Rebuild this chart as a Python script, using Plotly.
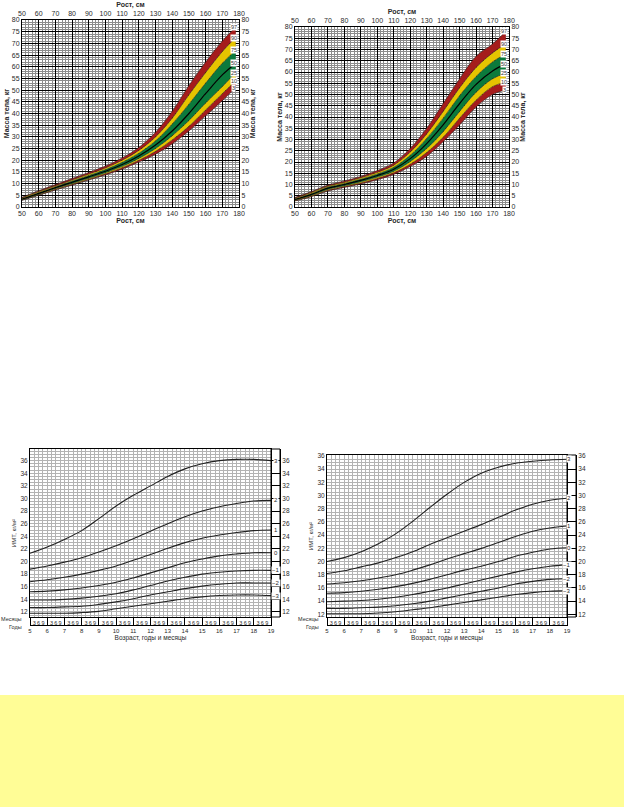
import plotly.graph_objects as go

W, H = 624, 807

# --- верхние графики: масса тела по росту, перцентили ---
heights = [50, 60, 70, 80, 90, 100, 110, 120, 130, 140, 150, 160, 170, 178]
pct_labels = ["3", "10", "25", "50", "75", "90", "97"]

# левый график
tl_p3 = [2.8, 5.0, 7.3, 9.3, 11.5, 13.7, 16.2, 19.2, 22.6, 27.0, 32.5, 39.0, 45.5, 51.0]
tl_p10 = [3.0, 5.2, 7.6, 9.7, 11.9, 14.2, 16.8, 20.0, 23.8, 28.7, 34.5, 41.5, 48.5, 54.0]
tl_p25 = [3.2, 5.5, 7.9, 10.1, 12.3, 14.7, 17.4, 20.8, 25.0, 30.5, 37.0, 44.5, 51.5, 57.5]
tl_p50 = [3.4, 5.8, 8.3, 10.6, 12.9, 15.3, 18.2, 21.8, 26.5, 32.5, 40.0, 48.5, 56.5, 61.5]
tl_p75 = [3.6, 6.2, 8.7, 11.1, 13.5, 16.0, 19.1, 23.0, 28.3, 35.5, 44.0, 53.0, 61.5, 67.0]
tl_p90 = [3.9, 6.6, 9.1, 11.6, 14.1, 16.7, 20.0, 24.2, 30.0, 38.0, 48.0, 57.5, 66.5, 72.5]
tl_p97 = [4.2, 7.0, 9.6, 12.2, 14.8, 17.5, 21.0, 25.5, 32.0, 41.0, 52.0, 62.0, 71.0, 77.0]

# правый график
tr_p3 = [2.7, 4.6, 7.1, 8.7, 10.2, 12.1, 14.5, 18.0, 22.5, 29.0, 36.5, 44.5, 50.0, 52.0]
tr_p10 = [2.9, 4.9, 7.5, 9.1, 10.7, 12.7, 15.2, 19.0, 24.2, 31.0, 39.5, 47.5, 53.5, 55.5]
tr_p25 = [3.1, 5.2, 7.9, 9.5, 11.2, 13.3, 15.9, 20.2, 26.0, 33.5, 42.5, 51.0, 57.0, 59.5]
tr_p50 = [3.4, 5.6, 8.4, 10.0, 11.8, 14.0, 16.8, 21.5, 28.2, 36.5, 46.0, 54.5, 60.5, 63.5]
tr_p75 = [3.7, 6.0, 8.9, 10.5, 12.4, 14.7, 17.7, 23.0, 30.5, 39.5, 49.5, 58.0, 64.5, 68.0]
tr_p90 = [4.0, 6.5, 9.3, 11.0, 13.0, 15.4, 18.6, 24.4, 32.5, 42.5, 53.0, 62.0, 68.5, 72.5]
tr_p97 = [4.3, 6.9, 9.8, 11.6, 13.6, 16.2, 19.6, 26.0, 35.0, 46.0, 57.0, 67.0, 72.5, 78.0]

height_ticks = [50, 60, 70, 80, 90, 100, 110, 120, 130, 140, 150, 160, 170, 180]
weight_ticks = [0, 5, 10, 15, 20, 25, 30, 35, 40, 45, 50, 55, 60, 65, 70, 75, 80]

# --- нижние графики: ИМТ по возрасту, SD ---
ages = [5, 6, 7, 8, 9, 10, 11, 12, 13, 14, 15, 16, 17, 18, 19]
months = ["3", "6", "9"]
z_labels = ["3", "2", "1", "0", "−1", "−2", "−3"]
bmi_ticks = [12, 14, 16, 18, 20, 22, 24, 26, 28, 30, 32, 34, 36]

bl_sd3 = [21.3, 22.3, 23.5, 24.9, 26.8, 28.8, 30.5, 32.0, 33.5, 34.7, 35.5, 36.0, 36.2, 36.2, 36.0]
bl_sd2 = [18.8, 19.3, 19.9, 20.6, 21.5, 22.5, 23.6, 24.8, 26.0, 27.1, 28.0, 28.7, 29.2, 29.6, 29.7]
bl_sd1 = [16.8, 17.1, 17.5, 18.0, 18.6, 19.3, 20.2, 21.1, 22.1, 23.0, 23.7, 24.2, 24.6, 24.9, 25.0]
bl_sd0 = [15.2, 15.3, 15.5, 15.8, 16.2, 16.7, 17.4, 18.2, 19.0, 19.8, 20.4, 20.9, 21.2, 21.4, 21.4]
bl_sdm1 = [13.9, 13.9, 14.0, 14.2, 14.5, 14.9, 15.5, 16.2, 16.9, 17.5, 18.0, 18.3, 18.5, 18.6, 18.6]
bl_sdm2 = [12.7, 12.7, 12.8, 12.9, 13.2, 13.6, 14.1, 14.7, 15.2, 15.7, 16.1, 16.4, 16.6, 16.6, 16.6]
bl_sdm3 = [11.8, 11.8, 11.8, 11.9, 12.1, 12.5, 12.9, 13.3, 13.7, 14.1, 14.4, 14.6, 14.7, 14.7, 14.6]

br_sd3 = [20.0, 20.6, 21.5, 22.7, 24.2, 26.1, 28.2, 30.2, 32.0, 33.4, 34.3, 34.9, 35.2, 35.4, 35.5]
br_sd2 = [18.2, 18.6, 19.2, 19.8, 20.6, 21.5, 22.6, 23.6, 24.6, 25.6, 26.7, 27.8, 28.7, 29.3, 29.6]
br_sd1 = [16.6, 16.8, 17.1, 17.5, 18.0, 18.7, 19.5, 20.4, 21.2, 22.0, 22.9, 23.8, 24.6, 25.1, 25.4]
br_sd0 = [15.2, 15.3, 15.5, 15.8, 16.2, 16.7, 17.3, 18.0, 18.7, 19.3, 20.0, 20.8, 21.4, 21.9, 22.1]
br_sdm1 = [13.9, 14.0, 14.1, 14.3, 14.6, 15.0, 15.5, 16.0, 16.6, 17.2, 17.8, 18.4, 18.9, 19.3, 19.5]
br_sdm2 = [12.9, 12.9, 13.0, 13.1, 13.3, 13.6, 14.0, 14.5, 15.0, 15.5, 16.0, 16.6, 17.0, 17.3, 17.4]
br_sdm3 = [12.1, 12.1, 12.1, 12.2, 12.4, 12.7, 13.0, 13.4, 13.8, 14.2, 14.6, 15.0, 15.3, 15.5, 15.6]

FONT = "Liberation Sans"
TXT = "#2a2a2a"
RED, YEL, GRN = "#a51c1c", "#e6c400", "#0b7a3c"


def px(x):
    return x / W


def py(y):
    return 1 - y / H


fig = go.Figure()


def add_bands(curves, xa, ya):
    fills = [None, RED, YEL, GRN, GRN, YEL, RED]
    for i, vals in enumerate(curves):
        fig.add_trace(go.Scatter(
            x=heights, y=vals, mode="lines",
            line=dict(color="black" if i == 3 else "#1a1a1a",
                      width=1.2 if i == 3 else 0.5, shape="spline"),
            fill=None if i == 0 else "tonexty", fillcolor=fills[i],
            xaxis=xa, yaxis=ya, showlegend=False, hoverinfo="skip"))
    for lab, vals in zip(pct_labels, curves):
        fig.add_annotation(x=177, y=vals[-1], xref=xa, yref=ya, text=lab,
                           showarrow=False, bgcolor="white", borderpad=0,
                           font=dict(size=5.5, color="#333", family=FONT))


def add_sd(curves, xa, ya, strip_x):
    for vals in curves:
        fig.add_trace(go.Scatter(
            x=ages, y=vals, mode="lines",
            line=dict(color="#222", width=1.1, shape="spline"),
            xaxis=xa, yaxis=ya, showlegend=False, hoverinfo="skip"))
    for lab, vals in zip(z_labels, curves):
        fig.add_annotation(x=px(strip_x), y=vals[-1], xref="paper", yref=ya,
                           text=lab, showarrow=False, bgcolor="white",
                           borderpad=0, font=dict(size=6, color=TXT, family=FONT))


add_bands([tl_p3, tl_p10, tl_p25, tl_p50, tl_p75, tl_p90, tl_p97], "x", "y")
add_bands([tr_p3, tr_p10, tr_p25, tr_p50, tr_p75, tr_p90, tr_p97], "x2", "y2")
add_sd([bl_sd3, bl_sd2, bl_sd1, bl_sd0, bl_sdm1, bl_sdm2, bl_sdm3], "x3", "y3", 275.5)
add_sd([br_sd3, br_sd2, br_sd1, br_sd0, br_sdm1, br_sdm2, br_sdm3], "x4", "y4", 571.5)

# пустые следы, чтобы появились дополнительные оси
for xa, ya in [("x5", "y"), ("x", "y5"), ("x6", "y2"), ("x2", "y6"),
               ("x7", "y3"), ("x3", "y7"), ("x8", "y4"), ("x4", "y8")]:
    fig.add_trace(go.Scatter(x=[None], y=[None], xaxis=xa, yaxis=ya,
                             showlegend=False, hoverinfo="skip"))

tick_font = dict(size=7, color=TXT, family=FONT)
title_font = dict(size=7, color=TXT, family=FONT)


def height_axis(domain, anchor, side="bottom", overlay=None, grid=True):
    ax = dict(domain=domain, anchor=anchor, side=side, range=[50, 180],
              tickmode="array", tickvals=height_ticks, ticks="",
              tickfont=tick_font, tickangle=0, zeroline=False,
              title=dict(text="<b>Рост, см</b>", font=title_font, standoff=1),
              showgrid=grid, gridcolor="black", gridwidth=1.2,
              showline=True, linecolor="black", linewidth=1, mirror=True)
    if grid:
        ax["minor"] = dict(dtick=2, tick0=50, showgrid=True,
                           gridcolor="#8c8c8c", gridwidth=0.6)
    if overlay:
        ax["overlaying"] = overlay
    return ax


def weight_axis(domain, anchor, side="left", overlay=None, grid=True):
    ax = dict(domain=domain, anchor=anchor, side=side, range=[0, 80],
              tickmode="array", tickvals=weight_ticks, ticks="",
              tickfont=tick_font, zeroline=False,
              title=dict(text="<b>Масса тела, кг</b>", font=title_font, standoff=1),
              showgrid=grid, gridcolor="black", gridwidth=1.2,
              showline=True, linecolor="black", linewidth=1, mirror=True)
    if grid:
        ax["minor"] = dict(dtick=1, tick0=0, showgrid=True,
                           gridcolor="#8c8c8c", gridwidth=0.6)
    if overlay:
        ax["overlaying"] = overlay
    return ax


quarter_vals = [a + k / 4 for a in ages[:-1] for k in range(4)] + [ages[-1]]
quarter_text = ([""] + months) * (len(ages) - 1) + [""]


def month_axis(domain, anchor):
    return dict(domain=domain, anchor=anchor, range=[5, 19], tickmode="array",
                tickvals=quarter_vals, ticktext=quarter_text, ticks="",
                tickangle=0, tickfont=dict(size=5.5, color=TXT, family=FONT),
                showgrid=True, gridcolor="#b3b3b3", gridwidth=0.5,
                zeroline=False, showline=True, linecolor="black",
                linewidth=1, mirror=True,
                minor=dict(tickmode="array", tickvals=ages, ticks="outside",
                           ticklen=8, tickwidth=1, tickcolor="black",
                           showgrid=False))


def year_axis(overlay, pos):
    return dict(overlaying=overlay, anchor="free", position=pos, side="bottom",
                range=[5, 19], tickmode="array", tickvals=ages,
                ticktext=[str(a) for a in ages], ticks="", tickangle=0,
                tickfont=dict(size=6, color=TXT, family=FONT),
                showgrid=False, zeroline=False, showline=True,
                linecolor="black", linewidth=1,
                title=dict(text="Возраст, годы и месяцы", standoff=2,
                           font=dict(size=6.5, color=TXT, family=FONT)))


def bmi_axis(domain, anchor, rng):
    return dict(domain=domain, anchor=anchor, range=rng, tickmode="array",
                tickvals=bmi_ticks, ticks="", tickfont=dict(size=6.5, color=TXT, family=FONT),
                showgrid=True, gridcolor="#b3b3b3", gridwidth=0.5, zeroline=False,
                minor=dict(dtick=0.5, tick0=12, showgrid=True,
                           gridcolor="#b3b3b3", gridwidth=0.5),
                showline=True, linecolor="black", linewidth=1, mirror=True,
                title=dict(text="ИМТ, кг/м²", standoff=3,
                           font=dict(size=6, color=TXT, family=FONT)))


def strip_axis(overlay, pos, rng):
    return dict(overlaying=overlay, anchor="free", position=pos, side="right",
                range=rng, tickmode="array", tickvals=bmi_ticks, ticks="inside",
                ticklen=9, tickwidth=0.8, tickcolor="black",
                tickfont=dict(size=6.5, color=TXT, family=FONT),
                showgrid=False, zeroline=False, showline=True,
                linecolor="black", linewidth=1)


bl_range = [11.2, 37.85]
br_range = [11.6, 36.15]

fig.update_layout(
    width=W, height=H, template="none",
    margin=dict(l=0, r=0, t=0, b=0),
    paper_bgcolor="white", plot_bgcolor="white",
    font=dict(family=FONT, color=TXT),
    showlegend=False,
    xaxis=height_axis([px(22), px(239)], "y"),
    yaxis=weight_axis([py(207), py(20)], "x"),
    xaxis5=height_axis([px(22), px(239)], "y", side="top", overlay="x", grid=False),
    yaxis5=weight_axis([py(207), py(20)], "x", side="right", overlay="y", grid=False),
    xaxis2=height_axis([px(295), px(509)], "y2"),
    yaxis2=weight_axis([py(207), py(27)], "x2"),
    xaxis6=height_axis([px(295), px(509)], "y2", side="top", overlay="x2", grid=False),
    yaxis6=weight_axis([py(207), py(27)], "x2", side="right", overlay="y2", grid=False),
    xaxis3=month_axis([px(30), px(271)], "y3"),
    yaxis3=bmi_axis([py(617), py(449)], "x3", bl_range),
    xaxis7=year_axis("x3", py(625)),
    yaxis7=strip_axis("y3", px(280), bl_range),
    xaxis4=month_axis([px(327), px(567)], "y4"),
    yaxis4=bmi_axis([py(617), py(455)], "x4", br_range),
    xaxis8=year_axis("x4", py(625)),
    yaxis8=strip_axis("y4", px(576), br_range),
)

# рамки боковых полос и жёлтая плашка внизу
for x0, x1, y0, y1 in [(271, 280, 617, 449), (567, 576, 617, 455)]:
    fig.add_shape(type="rect", xref="paper", yref="paper",
                  x0=px(x0), x1=px(x1), y0=py(y0), y1=py(y1),
                  line=dict(color="black", width=1))
fig.add_shape(type="rect", xref="paper", yref="paper", layer="below",
              x0=0, x1=1, y0=0, y1=py(695), fillcolor="#fffd96", line_width=0)

# подписи строк под осью
for x_right in [24, 321]:
    fig.add_annotation(x=px(x_right), y=py(623.5), xref="paper", yref="paper",
                       text="Месяцы", showarrow=False, xanchor="right",
                       font=dict(size=5.5, color=TXT, family=FONT))
    fig.add_annotation(x=px(x_right), y=py(632), xref="paper", yref="paper",
                       text="Годы", showarrow=False, xanchor="right",
                       font=dict(size=5.5, color=TXT, family=FONT))

fig.write_html("out.html", config={"displayModeBar": False},
               post_script="document.body.style.margin='0';")
